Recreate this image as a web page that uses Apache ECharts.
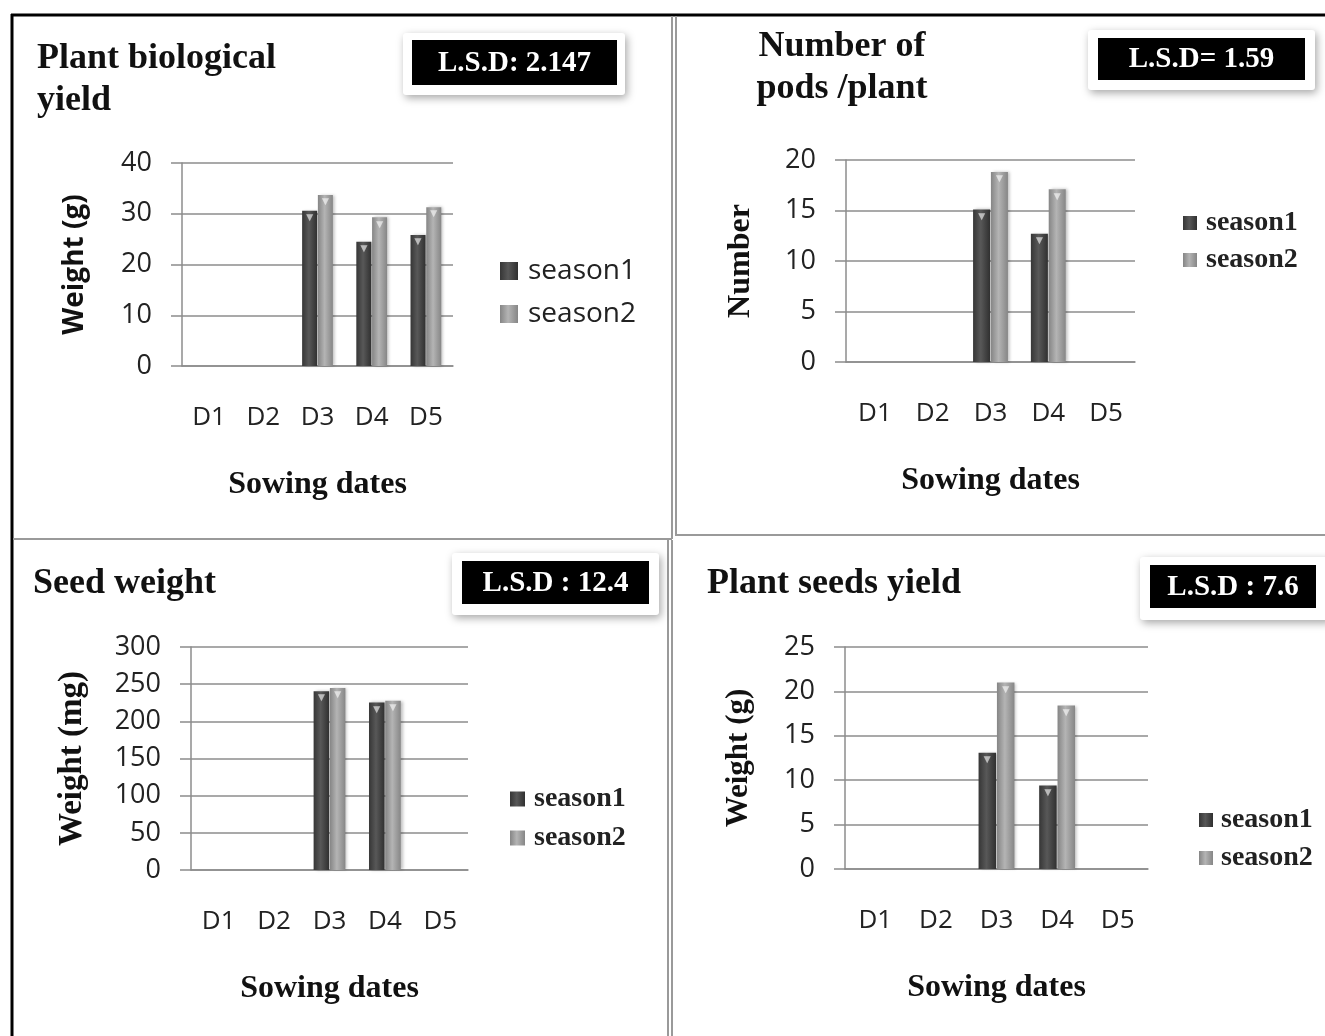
<!DOCTYPE html>
<html>
<head>
<meta charset="utf-8">
<script src="https://cdn.jsdelivr.net/npm/echarts@6/dist/echarts.min.js"></script>
<style>
html,body{margin:0;padding:0;background:#fff;}
#chart{width:1325px;height:1036px;}
</style>
</head>
<body>
<div id="chart"></div>
<script>
// ---- data ----
const categories = ['D1', 'D2', 'D3', 'D4', 'D5'];
const seriesNames = ['season1', 'season2'];

const bioS1 = [null, null, 30.6, 24.5, 25.8];
const bioS2 = [null, null, 33.7, 29.3, 31.3];
const bioYTicks = [0, 10, 20, 30, 40];

const podsS1 = [null, null, 15.1, 12.7, null];
const podsS2 = [null, null, 18.8, 17.1, null];
const podsYTicks = [0, 5, 10, 15, 20];

const seedS1 = [null, null, 240.6, 225.4, null];
const seedS2 = [null, null, 245.0, 227.6, null];
const seedYTicks = [0, 50, 100, 150, 200, 250, 300];

const yieldS1 = [null, null, 13.1, 9.4, null];
const yieldS2 = [null, null, 21.0, 18.4, null];
const yieldYTicks = [0, 5, 10, 15, 20, 25];

const titles = ['Plant biological\nyield', 'Number of\npods /plant', 'Seed weight', 'Plant seeds yield'];
const lsdTexts = ['L.S.D: 2.147', 'L.S.D= 1.59', 'L.S.D : 12.4', 'L.S.D : 7.6'];
const yNames = ['Weight (g)', 'Number', 'Weight (mg)', 'Weight (g)'];
const xName = 'Sowing dates';

// ---- styles ----
const SERIF = "'Liberation Serif', 'DejaVu Serif', serif";
const SANS = "'Open Sans', 'Liberation Sans', sans-serif";
const GRID_COLOR = '#8c8c8c';

const c1 = new echarts.graphic.LinearGradient(0, 0, 1, 0, [
  {offset: 0, color: '#363636'}, {offset: 0.45, color: '#585858'}, {offset: 1, color: '#303030'}]);
const c2 = new echarts.graphic.LinearGradient(0, 0, 1, 0, [
  {offset: 0, color: '#858585'}, {offset: 0.45, color: '#b4b4b4'}, {offset: 1, color: '#868686'}]);

const grids = [
  {left: 182, top: 163, width: 271, height: 203},
  {left: 846, top: 160, width: 289, height: 202},
  {left: 191, top: 647, width: 277, height: 223},
  {left: 845, top: 647, width: 303, height: 222}
];
const ticksAll = [bioYTicks, podsYTicks, seedYTicks, yieldYTicks];
const dataAll = [[bioS1, bioS2], [podsS1, podsS2], [seedS1, seedS2], [yieldS1, yieldS2]];
const barW = [15, 17, 15.5, 17.5];
const yNameGap = [93, 89, 102, 91];
const yNameFont = [
  {fontFamily: SANS, fontWeight: 'bold', fontSize: 28},
  {fontFamily: SERIF, fontWeight: 'bold', fontSize: 32},
  {fontFamily: SERIF, fontWeight: 'bold', fontSize: 33},
  {fontFamily: SERIF, fontWeight: 'bold', fontSize: 31}
];

const xAxes = [], yAxes = [], series = [];
grids.forEach((g, i) => {
  const t = ticksAll[i];
  xAxes.push({
    type: 'category', gridIndex: i, data: categories,
    axisLine: {show: true, lineStyle: {color: GRID_COLOR, width: 1.5}},
    axisTick: {show: false},
    axisLabel: {fontFamily: SANS, fontSize: 26, color: '#222', margin: 39},
    name: xName, nameLocation: 'middle', nameGap: 103,
    nameTextStyle: {fontFamily: SERIF, fontWeight: 'bold', fontSize: 32, color: '#111'}
  });
  yAxes.push({
    type: 'value', gridIndex: i, min: t[0], max: t[t.length - 1], interval: t[1] - t[0],
    axisLine: {show: true, lineStyle: {color: GRID_COLOR, width: 1.5}},
    axisTick: {show: true, length: 11, lineStyle: {color: GRID_COLOR, width: 1.5}},
    axisLabel: {fontFamily: SANS, fontSize: 27, color: '#222', margin: 30},
    splitLine: {show: true, lineStyle: {color: GRID_COLOR, width: 1.5}},
    name: yNames[i], nameLocation: 'middle', nameGap: yNameGap[i],
    nameTextStyle: Object.assign({color: '#111'}, yNameFont[i])
  });
  dataAll[i].forEach((d, k) => {
    series.push({
      type: 'bar', name: seriesNames[k], xAxisIndex: i, yAxisIndex: i, data: d,
      barWidth: barW[i], barGap: '5%',
      itemStyle: {color: k === 0 ? c1 : c2, shadowColor: 'rgba(0,0,0,0.25)', shadowBlur: 3, shadowOffsetX: 2},
      label: {show: true, position: 'insideTop', offset: [0, -4], formatter: '▼',
        fontSize: 12, color: 'rgba(255,255,255,0.6)'},
      animation: false
    });
  });
});

const legendCommon = {orient: 'vertical', data: seriesNames, icon: 'rect', selectedMode: false, padding: 0};
const legends = [
  Object.assign({left: 500, top: 257, itemWidth: 18, itemHeight: 18, itemGap: 15,
    textStyle: {fontFamily: SANS, fontSize: 28, color: '#222', padding: [0, 0, 0, 5]}}, legendCommon),
  Object.assign({left: 1183, top: 209, itemWidth: 14, itemHeight: 14, itemGap: 9,
    textStyle: {fontFamily: SERIF, fontWeight: 'bold', fontSize: 28, color: '#222', padding: [0, 0, 0, 4]}}, legendCommon),
  Object.assign({left: 510, top: 785, itemWidth: 15, itemHeight: 15, itemGap: 11,
    textStyle: {fontFamily: SERIF, fontWeight: 'bold', fontSize: 28, color: '#222', padding: [0, 0, 0, 4]}}, legendCommon),
  Object.assign({left: 1199, top: 806, itemWidth: 14, itemHeight: 14, itemGap: 10,
    textStyle: {fontFamily: SERIF, fontWeight: 'bold', fontSize: 28, color: '#222', padding: [0, 0, 0, 3]}}, legendCommon)
];

// ---- decorations ----
function line(x1, y1, x2, y2, color, w) {
  return {type: 'line', shape: {x1, y1, x2, y2}, style: {stroke: color, lineWidth: w}, silent: true};
}
function lsdBox(outer, inner, text) {
  return [
    {type: 'rect', shape: {x: outer[0], y: outer[1], width: outer[2], height: outer[3], r: 3},
      style: {fill: '#fff', shadowBlur: 8, shadowColor: 'rgba(0,0,0,0.35)', shadowOffsetX: 2, shadowOffsetY: 3}},
    {type: 'rect', shape: {x: inner[0], y: inner[1], width: inner[2], height: inner[3]}, style: {fill: '#000'}},
    {type: 'text', x: inner[0] + inner[2] / 2, y: inner[1] + inner[3] / 2 + 1,
      style: {text, fill: '#fff', font: 'bold 29px ' + SERIF, align: 'center', verticalAlign: 'middle'}}
  ];
}
function titleText(text, x, y, align) {
  return {type: 'text', x, y, style: {text, fill: '#111', font: 'bold 36px ' + SERIF,
    lineHeight: 42, align: align || 'left', verticalAlign: 'top'}};
}
const BORDER_GRAY = '#9a9a9a';
const graphics = [].concat(
  [
    line(11, 15, 1325, 15, '#000', 3),
    line(12, 14, 12, 1036, '#000', 3),
    line(672, 16, 672, 539, BORDER_GRAY, 2),
    line(676, 16, 676, 536, BORDER_GRAY, 2),
    line(13, 539, 672, 539, BORDER_GRAY, 2),
    line(676, 535, 1325, 535, BORDER_GRAY, 2),
    line(668, 540, 668, 1036, BORDER_GRAY, 2),
    line(672, 540, 672, 1036, BORDER_GRAY, 2)
  ],
  lsdBox([403, 33, 222, 62], [412, 40, 205, 45], lsdTexts[0]),
  lsdBox([1088, 30, 227, 60], [1098, 38, 207, 42], lsdTexts[1]),
  lsdBox([452, 553, 207, 62], [462, 561, 187, 43], lsdTexts[2]),
  lsdBox([1140, 557, 190, 63], [1150, 565, 166, 43], lsdTexts[3]),
  [
    titleText(titles[0], 37, 38),
    titleText(titles[1], 842, 26, 'center'),
    titleText(titles[2], 33, 563),
    titleText(titles[3], 707, 563)
  ]
);

const chart = echarts.init(document.getElementById('chart'), null, {renderer: 'canvas'});
chart.setOption({
  backgroundColor: '#fff',
  animation: false,
  grid: grids,
  xAxis: xAxes,
  yAxis: yAxes,
  legend: legends,
  series: series,
  graphic: graphics
});
</script>
</body>
</html>
